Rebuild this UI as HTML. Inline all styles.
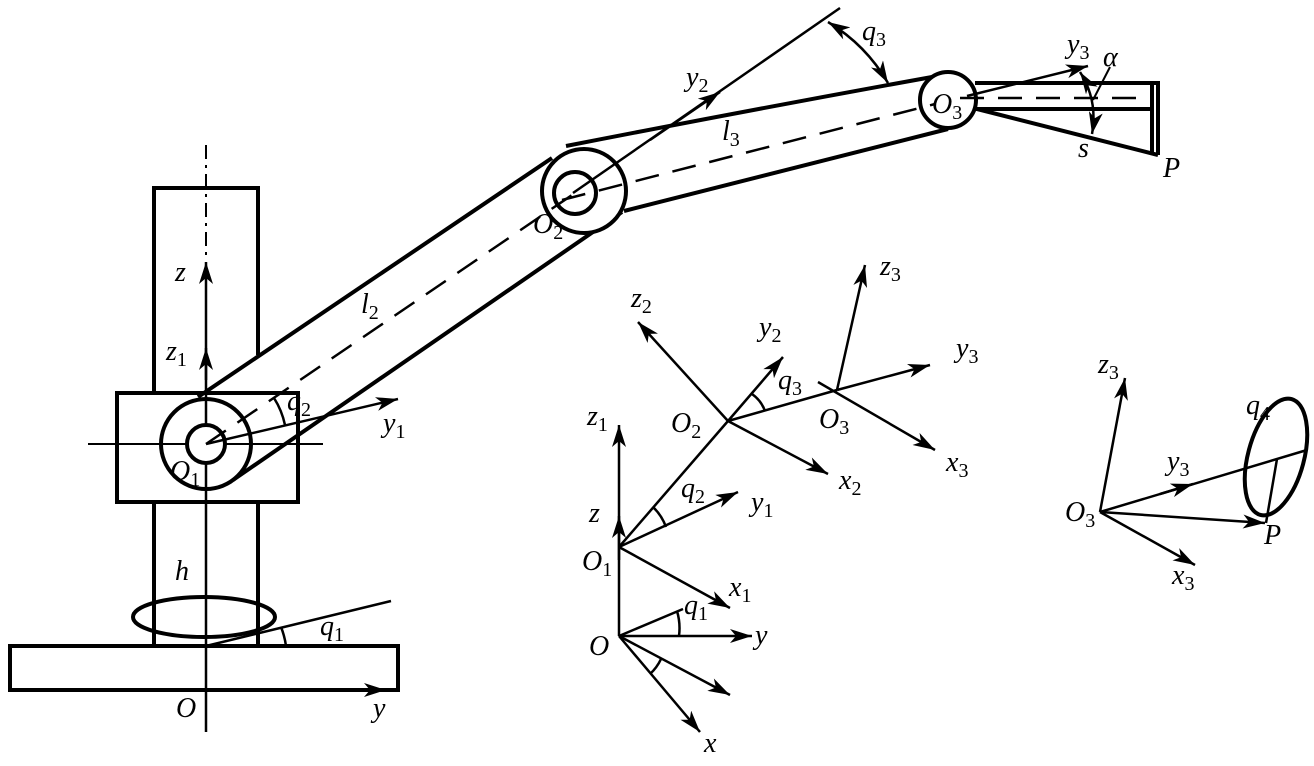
<!DOCTYPE html>
<html><head><meta charset="utf-8"><style>
html,body{margin:0;padding:0;background:#fff}
svg{display:block}
text{font-family:"Liberation Serif",serif;font-style:italic;font-size:28px;fill:#000}
.s{font-size:20px;font-style:normal}
</style></head><body>
<svg width="1314" height="766" viewBox="0 0 1314 766" xmlns="http://www.w3.org/2000/svg">
<defs>
<marker id="a" markerUnits="userSpaceOnUse" markerWidth="24" markerHeight="14" refX="22" refY="7" orient="auto">
<path d="M0,0 L22,7 L0,14 L6,7 Z" fill="#000"/></marker>
<marker id="b" markerUnits="userSpaceOnUse" markerWidth="24" markerHeight="14" refX="22" refY="7" orient="auto-start-reverse">
<path d="M0,0 L22,7 L0,14 L6,7 Z" fill="#000"/></marker>
</defs>
<g fill="none" stroke="#000" stroke-linecap="butt">
<rect x="10" y="646" width="388" height="44" stroke-width="4"/>
<line x1="154" y1="502" x2="154" y2="646" stroke-width="4"/>
<line x1="258" y1="502" x2="258" y2="646" stroke-width="4"/>
<ellipse cx="204" cy="617" rx="71" ry="20" stroke-width="4"/>
<path d="M154,393 L154,188 L258,188 L258,355" stroke-width="4"/>
<rect x="117" y="393" width="181" height="109" stroke-width="4" fill="#fff"/>
<line x1="206" y1="145" x2="206" y2="260" stroke-width="2" stroke-dasharray="14,6,3,6"/>
<line x1="206" y1="732" x2="206" y2="262" stroke-width="2.5" marker-end="url(#a)"/>
<line x1="206" y1="380" x2="206" y2="348" stroke-width="2.5" marker-end="url(#a)"/>
<line x1="88" y1="444" x2="323" y2="444" stroke-width="2"/>
<path d="M198,397 L552,158 M233,480 L622,212" stroke-width="4"/>
<path d="M566,146 Q750,110 932,77 M624,211 L948,129" stroke-width="4"/>
<circle cx="206" cy="444" r="45" stroke-width="4"/>
<circle cx="206" cy="444" r="19" stroke-width="4" fill="#fff"/>
<circle cx="584" cy="191" r="42" stroke-width="4" fill="#fff"/>
<circle cx="575" cy="193" r="21" stroke-width="4"/>
<circle cx="948" cy="100" r="28" stroke-width="4" fill="#fff"/>
<line x1="206" y1="444" x2="575" y2="193" stroke-width="2.5" stroke-dasharray="24,14"/>
<line x1="562" y1="200" x2="935" y2="104" stroke-width="2.5" stroke-dasharray="24,14"/>
<line x1="960" y1="98" x2="1150" y2="98" stroke-width="2.5" stroke-dasharray="24,14"/>
<line x1="206" y1="444" x2="398" y2="399" stroke-width="2.5" marker-end="url(#a)"/>
<path d="M274,398 A82,82 0 0 1 285,425" stroke-width="2.5"/>
<line x1="206" y1="646" x2="391" y2="601" stroke-width="2.5"/>
<path d="M281,627 A80,80 0 0 1 286,646" stroke-width="2.5"/>
<line x1="206" y1="690" x2="386" y2="690" stroke-width="2.5" marker-end="url(#a)"/>
<line x1="573" y1="193" x2="840" y2="8" stroke-width="2.5"/>
<line x1="650" y1="140" x2="720" y2="92" stroke-width="2.5" marker-end="url(#a)"/>
<path d="M828,22 Q866,45 888,83" stroke-width="2.5" marker-start="url(#b)" marker-end="url(#b)"/>
<path d="M975,83 L1158,83 L1158,155 M1152,83 L1152,155 M975,109 L1152,109 M977,109 L1158,155" stroke-width="4"/>
<line x1="967" y1="96" x2="1088" y2="66" stroke-width="2.5" marker-end="url(#a)"/>
<path d="M1080,72 Q1098,100 1092,134" stroke-width="2.5" marker-start="url(#b)" marker-end="url(#b)"/>
<line x1="1110" y1="67" x2="1093" y2="100" stroke-width="2"/>
<g stroke-width="2.5">
<line x1="619" y1="636" x2="619" y2="425" marker-end="url(#a)"/>
<line x1="619" y1="560" x2="619" y2="516" marker-end="url(#a)"/>
<line x1="619" y1="547" x2="738" y2="492" marker-end="url(#a)"/>
<line x1="619" y1="547" x2="730" y2="608" marker-end="url(#a)"/>
<line x1="619" y1="547" x2="728" y2="421"/>
<path d="M653,507 A52,52 0 0 1 666,527"/>
<line x1="619" y1="636" x2="752" y2="636" marker-end="url(#a)"/>
<line x1="619" y1="636" x2="683" y2="609"/>
<path d="M677,611 A60,60 0 0 1 679,636"/>
<line x1="619" y1="636" x2="700" y2="732" marker-end="url(#a)"/>
<line x1="619" y1="636" x2="730" y2="695" marker-end="url(#a)"/>
<path d="M650,674 A48,48 0 0 0 661,659"/>
<line x1="728" y1="421" x2="638" y2="322" marker-end="url(#a)"/>
<line x1="728" y1="421" x2="783" y2="357" marker-end="url(#a)"/>
<line x1="728" y1="421" x2="828" y2="474" marker-end="url(#a)"/>
<line x1="728" y1="421" x2="837" y2="390"/>
<path d="M752,394 A36,36 0 0 1 765,411"/>
<line x1="837" y1="390" x2="930" y2="365" marker-end="url(#a)"/>
<line x1="837" y1="390" x2="865" y2="265" marker-end="url(#a)"/>
<line x1="818" y1="382" x2="935" y2="450" marker-end="url(#a)"/>
<line x1="1100" y1="512" x2="1125" y2="378" marker-end="url(#a)"/>
<line x1="1100" y1="512" x2="1307" y2="450"/>
<line x1="1160" y1="494" x2="1193" y2="484" marker-end="url(#a)"/>
<line x1="1100" y1="512" x2="1265" y2="523" marker-end="url(#a)"/>
<line x1="1100" y1="512" x2="1195" y2="565" marker-end="url(#a)"/>
<line x1="1277" y1="459" x2="1266" y2="523"/>
</g>
<ellipse cx="1276" cy="457" rx="28" ry="60" transform="rotate(15 1276 457)" stroke-width="4"/>
</g>
<text x="175" y="281">z</text>
<text x="166" y="360">z<tspan class="s" dy="6">1</tspan></text>
<text x="361" y="313">l<tspan class="s" dy="6">2</tspan></text>
<text x="287" y="410">q<tspan class="s" dy="6">2</tspan></text>
<text x="383" y="432">y<tspan class="s" dy="6">1</tspan></text>
<text x="170" y="480">O<tspan class="s" dy="6">1</tspan></text>
<text x="175" y="580">h</text>
<text x="320" y="635">q<tspan class="s" dy="6">1</tspan></text>
<text x="176" y="717">O</text>
<text x="373" y="717">y</text>
<text x="686" y="86">y<tspan class="s" dy="6">2</tspan></text>
<text x="862" y="40">q<tspan class="s" dy="6">3</tspan></text>
<text x="722" y="140">l<tspan class="s" dy="6">3</tspan></text>
<text x="533" y="233">O<tspan class="s" dy="6">2</tspan></text>
<text x="932" y="113">O<tspan class="s" dy="6">3</tspan></text>
<text x="1067" y="53">y<tspan class="s" dy="6">3</tspan></text>
<text x="1103" y="66">α</text>
<text x="1078" y="157">s</text>
<text x="1163" y="177">P</text>
<text x="631" y="307">z<tspan class="s" dy="6">2</tspan></text>
<text x="759" y="336">y<tspan class="s" dy="6">2</tspan></text>
<text x="778" y="389">q<tspan class="s" dy="6">3</tspan></text>
<text x="671" y="432">O<tspan class="s" dy="6">2</tspan></text>
<text x="819" y="428">O<tspan class="s" dy="6">3</tspan></text>
<text x="880" y="275">z<tspan class="s" dy="6">3</tspan></text>
<text x="956" y="357">y<tspan class="s" dy="6">3</tspan></text>
<text x="946" y="471">x<tspan class="s" dy="6">3</tspan></text>
<text x="839" y="489">x<tspan class="s" dy="6">2</tspan></text>
<text x="587" y="425">z<tspan class="s" dy="6">1</tspan></text>
<text x="681" y="497">q<tspan class="s" dy="6">2</tspan></text>
<text x="751" y="511">y<tspan class="s" dy="6">1</tspan></text>
<text x="589" y="522">z</text>
<text x="582" y="570">O<tspan class="s" dy="6">1</tspan></text>
<text x="729" y="596">x<tspan class="s" dy="6">1</tspan></text>
<text x="684" y="614">q<tspan class="s" dy="6">1</tspan></text>
<text x="755" y="644">y</text>
<text x="589" y="655">O</text>
<text x="704" y="752">x</text>
<text x="1098" y="373">z<tspan class="s" dy="6">3</tspan></text>
<text x="1246" y="414">q<tspan class="s" dy="6">4</tspan></text>
<text x="1167" y="470">y<tspan class="s" dy="6">3</tspan></text>
<text x="1065" y="521">O<tspan class="s" dy="6">3</tspan></text>
<text x="1264" y="544">P</text>
<text x="1172" y="584">x<tspan class="s" dy="6">3</tspan></text>
</svg>
</body></html>
